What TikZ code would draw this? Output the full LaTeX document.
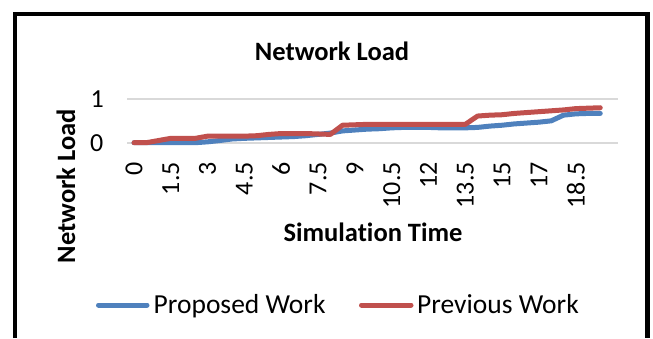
\documentclass[tikz,border=0pt]{standalone}
\usepackage{fontspec}
\setmainfont{Carlito}[Ligatures=NoCommon]
\usetikzlibrary{positioning}
\definecolor{gridgray}{HTML}{D9D9D9}
\definecolor{propblue}{HTML}{4F81BD}
\definecolor{prevred}{HTML}{C0504D}
\tikzset{
  frame/.style={line width=4.5pt, line join=miter},
  gridline/.style={draw=gridgray, line width=2pt},
  series/.style={draw=#1, line width=5pt, line cap=round, line join=round},
  lbl/.style={font=\fontsize{26}{31}\selectfont, inner sep=0pt},
  boldlbl/.style={font=\fontsize{26.5}{31}\selectfont\bfseries, inner sep=0pt},
  legendlbl/.style={font=\fontsize{27.5}{32}\selectfont, inner sep=0pt},
}

\begin{document}
\begin{tikzpicture}[x=1pt, y=-1pt]
    \useasboundingbox (0,0) rectangle (653,338);
    % chart border, open at the bottom
    \draw[frame] (14.8,338) -- (14.8,14) -- (647.5,14) -- (647.5,338);

    \node[boldlbl, anchor=base] (title) at (332,60) {Network Load};

    % gridlines and value axis
    \draw[gridline] (127,99) -- (618,99);
    \draw[gridline] (127,142.7) -- (618,142.7);
    \node[lbl, anchor=east] (ytop) at (104,99) {1};
    \node[lbl, anchor=east] (ybot) at (103.5,142.7) {0};
    \node[boldlbl, rotate=90, anchor=base] (ytitle) at (75,186) {Network Load};

    % category labels
    \foreach \i/\lab in {0/0,3/1.5,6/3,9/4.5,12/6,15/7.5,18/9,21/10.5,24/12,27/13.5,30/15,33/17,36/18.5}
      \node[lbl, rotate=90, anchor=east] (xt\i) at ({134+12.27*\i},162) {\lab};
    \node[boldlbl, anchor=base] (xtitle) at (373,241.5) {Simulation Time};

    % data
    \begin{scope}[shift={(134pt,-142.7pt)}, x=12.27pt, y=43.7pt]
      \draw[series=propblue] plot coordinates {(0,0) (1,0) (2,0) (3,0) (4,0) (5,0)
        (6,0.02) (7,0.05) (8,0.085) (9,0.1) (10,0.11) (11,0.12) (12,0.13) (13,0.14)
        (14,0.16) (15,0.19) (16,0.22) (17,0.27) (18,0.29) (19,0.31) (20,0.32) (21,0.34)
        (22,0.35) (23,0.35) (24,0.35) (25,0.34) (26,0.34) (27,0.34) (28,0.35) (29,0.38)
        (30,0.4) (31,0.43) (32,0.45) (33,0.47) (34,0.5) (35,0.63) (36,0.66) (37,0.67) (38,0.67)};
      \draw[series=prevred] plot coordinates {(0,0) (1,0) (2,0.05) (3,0.1) (4,0.1) (5,0.1)
        (6,0.15) (7,0.15) (8,0.15) (9,0.15) (10,0.16) (11,0.19) (12,0.21) (13,0.21)
        (14,0.21) (15,0.2) (16,0.19) (17,0.4) (18,0.41) (19,0.42) (20,0.42) (21,0.42)
        (22,0.42) (23,0.42) (24,0.42) (25,0.42) (26,0.42) (27,0.42) (28,0.61) (29,0.63)
        (30,0.64) (31,0.67) (32,0.69) (33,0.71) (34,0.73) (35,0.75) (36,0.78) (37,0.79) (38,0.8)};
    \end{scope}

    % legend
    \coordinate (pbA) at (98.5,305);
    \coordinate (pbB) at (147,305);
    \coordinate (prA) at (361.5,305);
    \coordinate (prB) at (411,305);
    \draw[series=propblue] (pbA) -- (pbB);
    \draw[series=prevred] (prA) -- (prB);
    \node[legendlbl, anchor=base west] (proposed) at (153.5,313.8) {Proposed Work};
    \node[legendlbl, anchor=base west] (previous) at (417,313.8) {Previous Work};
\end{tikzpicture}
\end{document}
